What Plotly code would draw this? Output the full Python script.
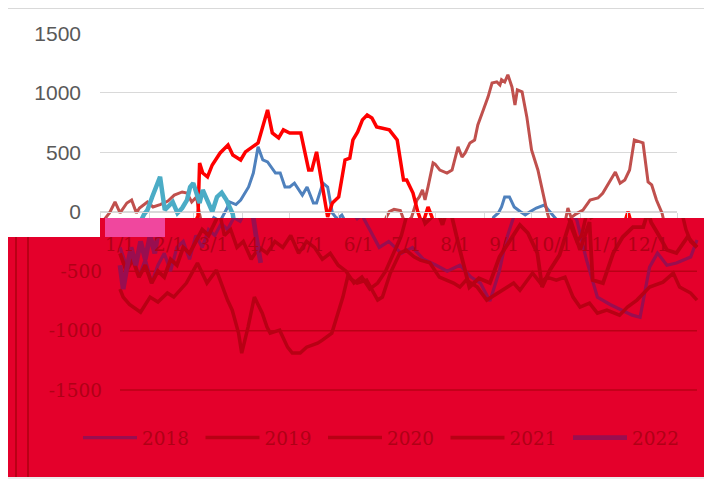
import plotly.graph_objects as go

# ---------------- data ----------------
years = ["2018", "2019", "2020", "2021", "2022"]
month_days = [0, 31, 59, 90, 120, 151, 181, 212, 243, 273, 304, 334]
month_labels = ["1/1", "2/1", "3/1", "4/1", "5/1", "6/1", "7/1", "8/1", "9/1", "10/1", "11/1", "12/1"]
y_pos_ticks = [0, 500, 1000, 1500]
y_pos_labels = ["0", "500", "1000", "1500"]
y_neg_ticks = [-500, -1000, -1500]
y_neg_labels = ["-500", "-1000", "-1500"]

days_2018 = [0, 4, 8, 12, 16, 20, 24, 28, 32, 36, 40, 44, 48, 52, 56, 60, 64, 68, 72, 76,
             80, 82, 86, 89, 94, 97, 100, 103, 106, 111, 114, 117, 120, 123, 128, 131, 135, 137, 141, 144,
             147, 150, 153, 158, 164, 170, 178, 185, 192, 200, 207, 215, 222, 228, 234, 240, 244, 249, 252, 254,
             256, 259, 262, 266, 269, 272, 276, 281, 285, 289, 295, 302, 310, 318, 324, 329, 335, 340, 346, 352,
             358, 361, 365]
vals_2018 = [-300, -450, -350, -550, -400, -600, -450, -350, -500, -300, -250, -400, -200, -300, -150, -200, -100, -150, -50, -80,
             20, 82, 60, 98, 208, 325, 545, 435, 418, 325, 325, 208, 208, 240, 140, 208, 73, 73, 240, 208,
             -11, -60, -28, -150, -300, -250, -350, -300, -400, -450, -500, -450, -550, -600, -750, -500, -250, -45, -11, 40,
             124, 124, 40, 0, -28, 0, 31, 56, -10, -70, -400, -718, -780, -828, -870, -887, -466, -348, -450, -432,
             -400, -381, -238]

days_2019 = [0, 3, 6, 9.5, 12.7, 17, 20, 23, 25, 30, 33.5, 38, 43, 47, 52, 55, 58, 61, 63, 66,
             70, 74, 78, 83, 88, 93, 98, 103, 108, 113, 118, 123, 128, 133, 138, 143, 148, 153, 158, 163,
             168, 173, 178, 181, 183, 186, 190, 193, 197, 200.5, 202, 204, 205.6, 207.5, 210.7, 212, 215, 219.5, 222.7, 226.5,
             229, 231, 234, 237, 239, 242, 245.5, 248, 251, 253, 254, 256, 258, 260.6, 262.5, 264, 267, 270, 273, 277,
             280, 283, 286, 289, 292, 294, 296, 298, 301, 305.5, 310, 315, 318, 321, 326, 329, 332, 335, 338, 341.6,
             343.5, 346.7, 349, 352, 355.5, 358, 361, 365]
vals_2019 = [-200, -60, -10, 82, -10, 73, 98, -10, 31, 82, 40, 60, 90, 140, 166, 157, 82, 124, -20, -200,
             -150, -300, -250, -400, -300, -350, -250, -300, -200, -350, -250, -300, -400, -350, -450, -500, -600, -550, -650, -600,
             -500, -350, -200, -50, 0, 20, 10, -100, -50, 98, 124, 183, 100, 208, 410, 400, 350, 325, 350, 545,
             460, 494, 578, 603, 730, 839, 966, 1082, 1092, 1066, 1109, 1090, 1151, 1049, 898, 1024, 1007, 797, 519, 351,
             183, -11, -150, -250, -200, -100, 31, -50, -20, 14, 98, 115, 155, 225, 334, 240, 267, 351, 603, 587,
             578, 250, 225, 98, -11, -150, -250, -300]

days_2020 = [0, 2, 6, 13, 19, 24, 30, 34, 42, 49, 55, 61, 68, 71, 75, 77, 81, 85, 90, 93,
             95, 101, 106, 109, 114, 118, 125, 128, 134, 137, 141, 144, 150, 156, 163, 166, 171, 177, 181, 186,
             190, 196, 202, 211, 215, 219, 226, 232, 237, 242, 249, 253, 261, 266, 270, 276, 281.5, 286.6, 291, 297,
             302, 308, 316, 321, 327, 335, 343.5, 350, 354, 361, 365]
vals_2020 = [-650, -718, -780, -845, -718, -760, -684, -718, -600, -432, -600, -491, -743, -828, -1021, -1189, -970, -718, -853, -970,
             -1021, -996, -1139, -1189, -1189, -1139, -1105, -1080, -1021, -887, -718, -550, -600, -575, -743, -718, -516, -348, -323, -380,
             -407, -430, -550, -600, -634, -575, -634, -743, -700, -660, -600, -660, -516, -600, -550, -575, -550, -718, -802, -769,
             -853, -828, -870, -802, -743, -634, -592, -516, -634, -684, -743]

days_2021 = [0, 4, 8, 12, 16, 20, 24, 28, 32, 36, 40, 44, 48, 52, 56, 60, 62, 63, 65, 68,
             71, 76, 81, 84, 89, 92, 97, 100, 106, 109, 113, 116, 120, 127, 132, 134, 137, 140, 144, 147,
             151, 155, 158, 160, 163, 166, 169, 172, 175, 178, 183, 188, 190, 192, 194, 196, 198, 201, 204, 207.5,
             210, 215, 221, 227, 234, 240, 247, 253, 258, 264, 267, 272, 278, 285, 291, 297, 299, 305.5, 312, 318,
             324.5, 331, 334, 336, 340, 346, 352, 359, 365]
vals_2021 = [-350, -500, -400, -550, -450, -600, -500, -550, -400, -450, -300, -350, -250, -150, -200, -100, -36, 410, 325, 292,
             393, 494, 561, 477, 435, 503, 545, 578, 856, 662, 620, 688, 662, 662, 351, 351, 503, 267, -45, 73,
             124, 435, 450, 603, 670, 772, 813, 788, 713, 704, 688, 603, 435, 267, 267, 208, 157, 0, -110, 40,
             -45, -322, -634, -560, -600, -381, -238, -112, -179, -348, -634, -490, -365, -70, -322, -87, -575, -600, -348, -213,
             -129, -129, 0, -90, -179, -322, -348, -213, -297]

days_2022 = [0, 2, 4, 7, 10, 13, 16, 19, 22, 25, 28, 30, 33, 36, 38, 41, 44, 46, 49, 52,
             55, 57, 59, 61, 63, 65, 68, 71, 74, 77, 80, 84, 86, 88, 89]
vals_2022 = [-450, -650, -500, -300, -450, -250, -400, -200, -350, -100, -20, 14, 124, 230, 293, 14, 50, 82, -11, 31,
             98, 208, 240, 157, 73, 183, 98, 0, 124, 160, 98, -20, -200, -350, -430]

series_days = [days_2018, days_2019, days_2020, days_2021, days_2022]
series_vals = [vals_2018, vals_2019, vals_2020, vals_2021, vals_2022]

# ---------------- style ----------------
orig_colors = ["#4F81BD", "#C0504D", "#9BBB59", "#FF0000", "#4BACC6"]
line_widths = [3, 3, 3, 3.5, 4.5]
red_widths = [3.2, 3.5, 3.5, 3.8, 4.8]
RED = "#E4002B"
DRED_LINE = "#B80014"
DRED_GRID = "#BA0016"
DRED_TEXT = "#B00016"
PURPLE = "#990E50"
red_colors = [PURPLE, DRED_LINE, DRED_LINE, DRED_LINE, PURPLE]
GRID = "#D9D9D9"
LABEL = "#595959"

W, H = 712, 483
OFF = 8  # page offset of the plot div inside the browser window


def fx(px):
    return (px - OFF) / W


def fy(py):
    return 1 - (py - OFF) / H


PLOT_L, PLOT_R, PLOT_T, PLOT_B = 100, 677, 33.3, 390.1
X_MIN, X_MAX = 0, 365
Y_MIN, Y_MAX = -1500, 1500
SHIFT = 20
RED_L, RED_R, RED_T, RED_B = 100, 707, 218, 477

px_per_day = (PLOT_R - PLOT_L) / (X_MAX - X_MIN)
val_per_px = (Y_MAX - Y_MIN) / (PLOT_B - PLOT_T)
zero_px = PLOT_T + Y_MAX / val_per_px
x2_range = [X_MIN + (RED_L - (PLOT_L + SHIFT)) / px_per_day,
            X_MIN + (RED_R - (PLOT_L + SHIFT)) / px_per_day]
y2_range = [Y_MAX - (RED_B - PLOT_T) * val_per_px,
            Y_MAX - (RED_T - PLOT_T) * val_per_px]

fig = go.Figure()
for i, name in enumerate(years):
    fig.add_trace(go.Scatter(x=series_days[i], y=series_vals[i], mode="lines", name=name,
                             line=dict(color=orig_colors[i], width=line_widths[i]),
                             showlegend=False, hoverinfo="skip", xaxis="x", yaxis="y"))
for i, name in enumerate(years):
    fig.add_trace(go.Scatter(x=series_days[i], y=series_vals[i], mode="lines", name=name,
                             line=dict(color=red_colors[i], width=red_widths[i]),
                             showlegend=True, hoverinfo="skip", xaxis="x2", yaxis="y2"))

shapes = [
    dict(type="rect", xref="paper", yref="paper", x0=fx(7.5), x1=fx(705), y0=fy(478), y1=fy(8.5),
         line=dict(color=GRID, width=1), fillcolor="rgba(0,0,0,0)", layer="below"),
    dict(type="rect", xref="paper", yref="paper", x0=fx(7), x1=fx(RED_L + 1), y0=fy(RED_B), y1=fy(237),
         line=dict(width=0), fillcolor=RED, layer="below"),
    dict(type="line", xref="paper", yref="paper", x0=fx(16), x1=fx(16), y0=fy(RED_B), y1=fy(237),
         line=dict(color=DRED_GRID, width=2), layer="below"),
    dict(type="line", xref="paper", yref="paper", x0=fx(28), x1=fx(28), y0=fy(RED_B), y1=fy(237),
         line=dict(color=DRED_GRID, width=2), layer="below"),
    dict(type="rect", xref="x2", yref="y2", x0=x2_range[0] - 20, x1=x2_range[1] + 20,
         y0=y2_range[0] - 500, y1=y2_range[1] + 500, line=dict(width=0), fillcolor=RED, layer="below"),
]
for t in y_neg_ticks:
    shapes.append(dict(type="line", xref="x2", yref="y2", x0=X_MIN, x1=X_MAX, y0=t, y1=t,
                       line=dict(color=DRED_GRID, width=1.5), layer="below"))
shapes.append(dict(type="rect", xref="paper", yref="paper", x0=fx(105), x1=fx(165), y0=fy(237), y1=fy(218),
                   line=dict(width=0), fillcolor="#F0479E", layer="above"))

fig.update_layout(
    width=W, height=H, autosize=False,
    margin=dict(l=0, r=0, t=0, b=0, autoexpand=False),
    paper_bgcolor="white", plot_bgcolor="rgba(0,0,0,0)",
    hovermode=False,
    shapes=shapes,
    xaxis=dict(domain=[fx(PLOT_L), fx(PLOT_R)], range=[X_MIN, X_MAX], anchor="free", position=fy(zero_px),
               showline=True, linecolor=GRID, linewidth=1, ticks="outside", ticklen=8, tickcolor=GRID,
               tickvals=month_days + [X_MAX], showticklabels=False, showgrid=False, zeroline=False, fixedrange=True),
    yaxis=dict(domain=[fy(PLOT_B), fy(PLOT_T)], range=[Y_MIN, Y_MAX], anchor="x",
               tickvals=y_pos_ticks, ticktext=y_pos_labels, showgrid=True, gridcolor=GRID, gridwidth=1.3,
               zeroline=False, showline=False, ticks="", ticklabelstandoff=18,
               tickfont=dict(family="Liberation Sans, Arial, sans-serif", size=21, color=LABEL), fixedrange=True),
    xaxis2=dict(domain=[fx(RED_L), fx(RED_R)], range=x2_range, anchor="free", position=fy(zero_px),
                showline=False, ticks="", tickvals=month_days, ticktext=month_labels, showgrid=False, zeroline=False,
                ticklabelstandoff=20,
                tickfont=dict(family="DejaVu Serif, serif", size=18.5, color=DRED_TEXT), fixedrange=True),
    yaxis2=dict(domain=[fy(RED_B), fy(RED_T)], range=y2_range, anchor="free", position=fx(PLOT_L + SHIFT),
                tickvals=y_neg_ticks, ticktext=y_neg_labels, showgrid=False, zeroline=False, showline=False,
                ticks="", ticklabelstandoff=18,
                tickfont=dict(family="DejaVu Serif, serif", size=18.5, color=DRED_TEXT), fixedrange=True),
    legend=dict(orientation="h", x=fx(78), y=fy(438), xanchor="left", yanchor="middle",
                font=dict(family="DejaVu Serif, serif", size=18.5, color=DRED_TEXT),
                bgcolor="rgba(0,0,0,0)", itemwidth=54, entrywidth=53.5, entrywidthmode="pixels",
                traceorder="normal"),
)

fig.write_html("out.html", config=dict(displayModeBar=False, staticPlot=True))
